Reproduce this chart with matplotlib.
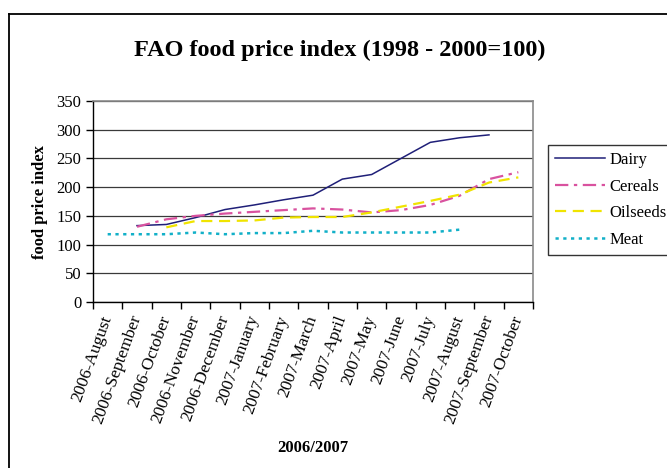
import numpy as np
import matplotlib
matplotlib.use("Agg")
import matplotlib.pyplot as plt
from matplotlib.lines import Line2D

months = ['2006-August', '2006-September', '2006-October', '2006-November',
          '2006-December', '2007-January', '2007-February', '2007-March',
          '2007-April', '2007-May', '2007-June', '2007-July', '2007-August',
          '2007-September', '2007-October']

nan = np.nan
dairy = [nan, 133, 135, 147, 161, 169, 178, 186, 214, 222, 250, 278, 286, 291, nan]
cereals = [nan, 131, 144, 150, 154, 157, 160, 163, 161, 156, 160, 169, 185, 214, 226]
oilseeds = [nan, nan, 130, 141, 141, 142, 147, 148, 148, 156, 166, 176, 187, 208, 217]
meat = [118, 118, 118, 121, 118, 120, 120, 124, 121, 121, 121, 121, 126, nan, nan]

plt.rcParams['font.family'] = ['Liberation Serif', 'DejaVu Serif']

W, H = 667, 468
fig = plt.figure(figsize=(W / 100, H / 100), dpi=100)
ax = fig.add_axes([93 / W, 1 - 302 / H, 440 / W, 201 / H])

x = np.arange(len(months))
ax.plot(x, dairy, color='#1f1f78', lw=1.1, label='Dairy')
ax.plot(x, cereals, color='#d9529f', lw=1.6, dashes=(6, 2.5, 1.5, 2.5), label='Cereals')
ax.plot(x, oilseeds, color='#f0e400', lw=1.6, dashes=(5, 3), label='Oilseeds')
ax.plot(x, meat, color='#12b0c8', lw=1.8, dashes=(1.3, 1.8), label='Meat')

ax.set_xlim(-0.5, len(months) - 0.5)
ax.set_ylim(0, 350)
ax.set_yticks(np.arange(0, 351, 50))
ax.tick_params(axis='y', labelsize=12, length=5, direction='out', width=1)
ax.set_xticks(x)
ax.set_xticklabels(months, rotation=70, ha='right', va='center',
                   rotation_mode='anchor', fontsize=12.5)
ax.set_xticks(np.arange(-0.5, len(months), 1), minor=True)
ax.tick_params(axis='x', which='major', length=0, pad=10)
ax.tick_params(axis='x', which='minor', length=5, width=1, direction='out')
ax.grid(axis='y', color='#3a3a3a', lw=0.9)
ax.set_axisbelow(True)
for s in ['top', 'right']:
    ax.spines[s].set_color('#8a8a8a')
    ax.spines[s].set_linewidth(1.2)
for s in ['left', 'bottom']:
    ax.spines[s].set_color('black')
    ax.spines[s].set_linewidth(1.0)

ax.set_ylabel('food price index', fontsize=12, fontweight='bold', labelpad=6)
fig.text(313 / W, 1 - 448 / H, '2006/2007', fontsize=12, fontweight='bold',
         ha='center', va='center')
fig.text(340 / W, 1 - 50 / H, 'FAO food price index (1998 - 2000=100)',
         fontsize=17.5, fontweight='bold', ha='center', va='center')

leg = ax.legend(loc='upper left', bbox_to_anchor=(548 / W, 1 - 145 / H),
                bbox_transform=fig.transFigure, fontsize=12, frameon=True,
                fancybox=False, edgecolor='black', handlelength=3.0,
                handletextpad=0.25, labelspacing=0.64, borderpad=0.42,
                borderaxespad=0)
leg.get_frame().set_linewidth(1.0)

# outer chart frame
fig.add_artist(Line2D([9 / W, 9 / W], [0, 1 - 14 / H], transform=fig.transFigure,
                      color='black', lw=1.3))
fig.add_artist(Line2D([9 / W, 1], [1 - 14 / H, 1 - 14 / H], transform=fig.transFigure,
                      color='black', lw=1.3))

fig.savefig('out.png', dpi=100)
